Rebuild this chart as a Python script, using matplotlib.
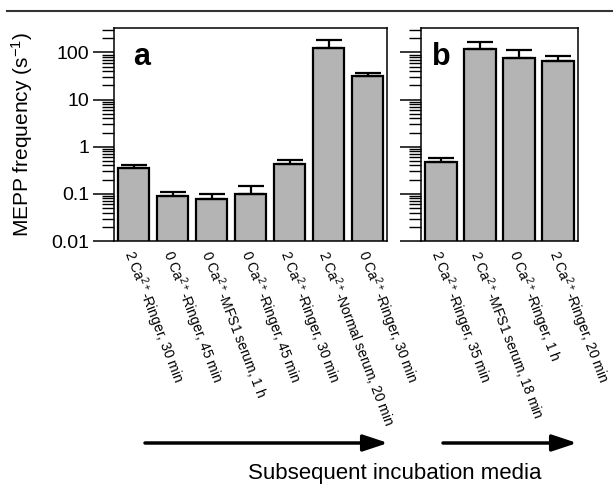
import matplotlib
matplotlib.use("Agg")
import matplotlib.pyplot as plt
from matplotlib.lines import Line2D
from matplotlib.transforms import blended_transform_factory, ScaledTranslation

plt.rcParams['font.family'] = ['Liberation Sans', 'DejaVu Sans']
plt.rcParams['mathtext.fontset'] = 'custom'
plt.rcParams['mathtext.rm'] = 'Liberation Sans'
plt.rcParams['mathtext.it'] = 'Liberation Sans'
plt.rcParams['mathtext.default'] = 'rm'

# ---- data ----
cats_a = ["2 Ca$^{2+}$-Ringer, 30 min",
          "0 Ca$^{2+}$-Ringer, 45 min",
          "0 Ca$^{2+}$-MFS1 serum, 1 h",
          "0 Ca$^{2+}$-Ringer, 45 min",
          "2 Ca$^{2+}$-Ringer, 30 min",
          "2 Ca$^{2+}$-Normal serum, 20 min",
          "0 Ca$^{2+}$-Ringer, 30 min"]
vals_a = [0.36, 0.088, 0.078, 0.10, 0.43, 127, 32]
err_a = [0.04, 0.022, 0.022, 0.047, 0.09, 53, 5]

cats_b = ["2 Ca$^{2+}$-Ringer, 35 min",
          "2 Ca$^{2+}$-MFS1 serum, 18 min",
          "0 Ca$^{2+}$-Ringer, 1 h",
          "2 Ca$^{2+}$-Ringer, 20 min"]
vals_b = [0.48, 121, 75, 65]
err_b = [0.10, 42, 40, 21]

yticks = [0.01, 0.1, 1, 10, 100]
ytick_labels = ["0.01", "0.1", "1", "10", "100"]
ylabel = "MEPP frequency (s$^{-1}$)"
xlabel = "Subsequent incubation media"

W, H = 613, 490
fig = plt.figure(figsize=(W / 100, H / 100), dpi=100)

def px_axes(l, t, r, b):
    return fig.add_axes([l / W, 1 - b / H, (r - l) / W, (b - t) / H])

ax_a = px_axes(114, 28, 387, 241)
ax_b = px_axes(421, 28, 578, 241)

bar_color = '#b4b4b4'

def draw(ax, cats, vals, errs, letter, show_labels):
    x = list(range(len(vals)))
    ax.bar(x, vals, width=0.82, color=bar_color, edgecolor='black',
           linewidth=1.6, zorder=2)
    ax.errorbar(x, vals, yerr=[[0] * len(errs), errs], fmt='none',
                ecolor='black', elinewidth=1.6, capsize=9.5, capthick=1.6,
                zorder=3)
    ax.set_yscale('log')
    ax.set_ylim(0.01, 330)
    ax.set_xlim(-0.5, len(vals) - 0.5)
    ax.set_yticks(yticks)
    if show_labels:
        ax.set_yticklabels(ytick_labels, fontsize=14)
    else:
        ax.set_yticklabels([])
    ax.tick_params(axis='y', which='major', direction='out', length=15,
                   width=1.1, pad=3)
    ax.tick_params(axis='y', which='minor', direction='out', length=8.5,
                   width=1.0)
    ax.set_xticks([])
    for s in ax.spines.values():
        s.set_linewidth(1.1)
    ax.text(0.07, 0.826, letter, transform=ax.transAxes, fontsize=22,
            fontweight='bold', va='baseline', ha='left')
    trans = blended_transform_factory(ax.transData, ax.transAxes) + \
        ScaledTranslation(-4 / 72, -7.5 / 72, fig.dpi_scale_trans)
    for i, c in enumerate(cats):
        ax.text(i, 0, c, transform=trans, rotation=-69, rotation_mode='anchor',
                ha='left', va='center', fontsize=10)

draw(ax_a, cats_a, vals_a, err_a, 'a', True)
draw(ax_b, cats_b, vals_b, err_b, 'b', False)

fig.text(22 / W, 1 - 135 / H, ylabel, rotation=90, ha='center', va='center',
         fontsize=15)
fig.text(395 / W, 1 - 479 / H, xlabel, ha='center', va='baseline', fontsize=16)

# top rule
fig.add_artist(Line2D([7 / W, 1], [1 - 11 / H] * 2, transform=fig.transFigure,
                      color='#333333', lw=1.5))

# arrows
for x0, x1 in [(145, 388), (443, 577)]:
    fig.add_artist(matplotlib.patches.FancyArrowPatch(
        (x0 / W, 1 - 443 / H), (x1 / W, 1 - 443 / H),
        transform=fig.transFigure,
        arrowstyle='-|>,head_length=1.5,head_width=0.5', mutation_scale=10,
        lw=2.5, color='black', shrinkA=0, shrinkB=0))

fig.savefig('out.png', dpi=100)
